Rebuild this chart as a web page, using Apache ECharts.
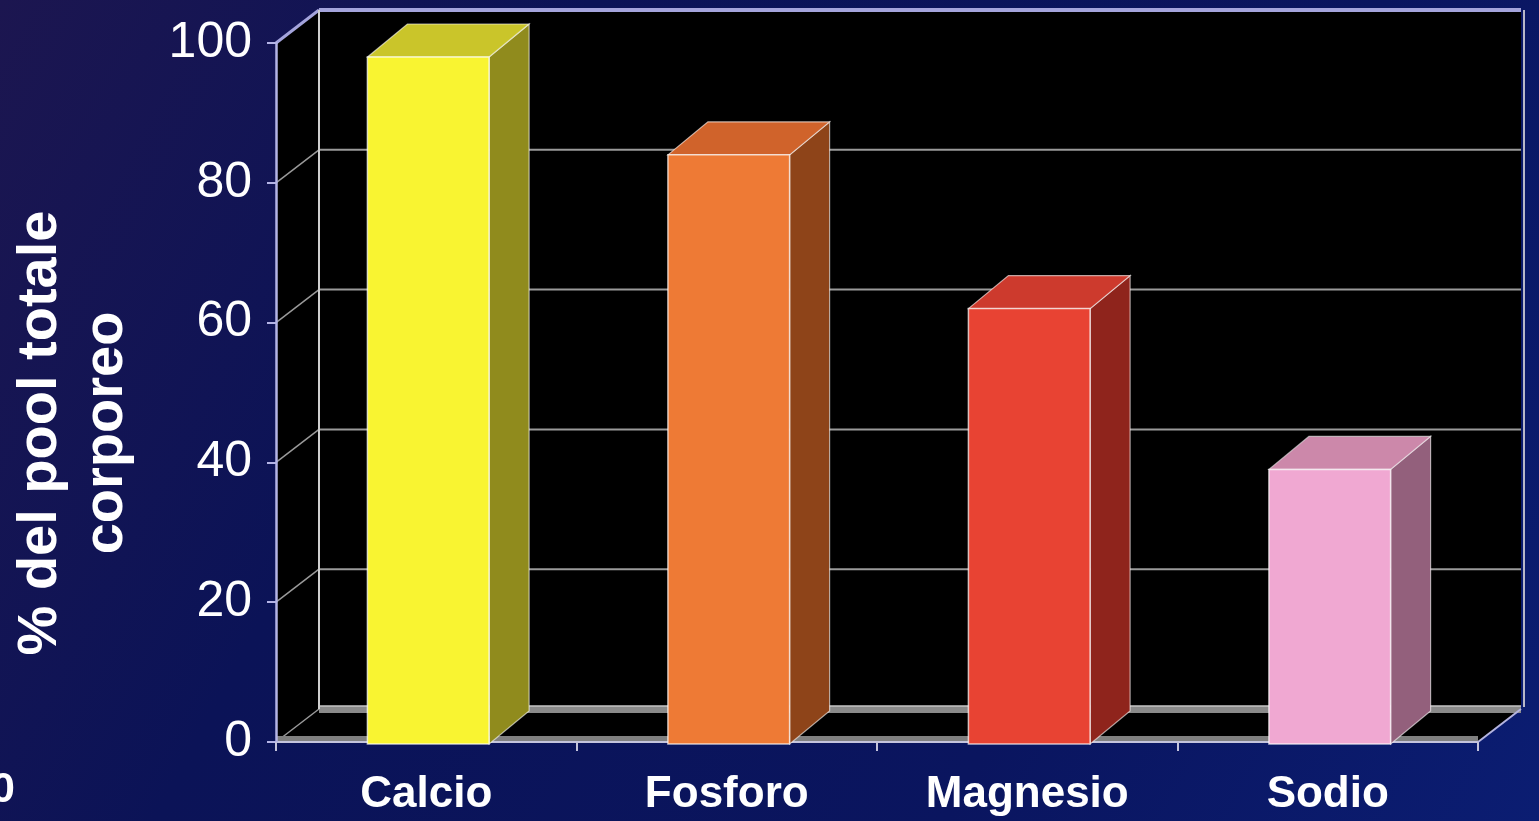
<!DOCTYPE html>
<html><head><meta charset="utf-8">
<script src="https://cdn.jsdelivr.net/npm/echarts@6/dist/echarts.min.js"></script>
<style>html,body{margin:0;padding:0;width:1539px;height:821px;overflow:hidden;background:#0b1458}#c{width:1539px;height:821px}</style>
</head><body><div id="c"></div>
<script>
// ---- data ----
const categories = ['Calcio', 'Fosforo', 'Magnesio', 'Sodio'];
const values = [98, 84, 62, 39];
const yTicks = [0, 20, 40, 60, 80, 100];
const yAxisTitle = '% del pool totale\ncorporeo';
const cornerText = '0';

// ---- styles ----
const frontColors = ['#f9f431', '#ee7a35', '#e84333', '#f0a8d2'];
const topColors = ['#cac52a', '#d0632b', '#cd3a2d', '#cc88aa'];
const sideColors = ['#908b1d', '#8e4419', '#8f241c', '#93607c'];
const DX = 43, DY = -33;
const FONT = '"Liberation Sans", Arial, sans-serif';

const chart = echarts.init(document.getElementById('c'));

function frameRender(params, api) {
  const cs = params.coordSys;
  const x0 = cs.x, x1 = cs.x + cs.width, yT = cs.y, yB = cs.y + cs.height;
  const ch = [];
  ch.push({type: 'rect', shape: {x: x0 + DX, y: yT + DY, width: cs.width, height: cs.height}, style: {fill: '#000'}});
  ch.push({type: 'polygon', shape: {points: [[x0, yT], [x0 + DX, yT + DY], [x0 + DX, yB + DY], [x0, yB]]}, style: {fill: '#000'}});
  ch.push({type: 'polygon', shape: {points: [[x0, yB], [x1, yB], [x1 + DX, yB + DY], [x0 + DX, yB + DY]]}, style: {fill: '#000'}});
  yTicks.forEach(function (v) {
    const y = api.coord([0, v])[1];
    if (v === 0) {
      ch.push({type: 'rect', shape: {x: x0 + DX, y: y + DY - 3, width: cs.width, height: 7}, style: {fill: '#8a8a8a'}});
      ch.push({type: 'line', shape: {x1: x0 + DX, y1: y + DY - 3, x2: x1 + DX, y2: y + DY - 3}, style: {stroke: '#c4c4c4', lineWidth: 1.5}});
    } else if (v === 100) {
      ch.push({type: 'line', shape: {x1: x0 + DX, y1: y + DY, x2: x1 + DX, y2: y + DY}, style: {stroke: '#a4a4dc', lineWidth: 4}});
    } else {
      ch.push({type: 'line', shape: {x1: x0 + DX, y1: y + DY, x2: x1 + DX, y2: y + DY}, style: {stroke: '#9a9a9a', lineWidth: 2}});
    }
    ch.push({type: 'line', shape: {x1: x0, y1: y, x2: x0 + DX, y2: y + DY},
      style: {stroke: v === 100 ? '#a4a4dc' : '#9a9a9a', lineWidth: v === 100 ? 3 : 1.5}});
  });
  ch.push({type: 'line', shape: {x1: x0 + DX, y1: yT + DY, x2: x0 + DX, y2: yB + DY}, style: {stroke: '#cfcfcf', lineWidth: 2}});
  ch.push({type: 'line', shape: {x1: x1 + DX + 3, y1: yT + DY, x2: x1 + DX + 3, y2: yB + DY - 2}, style: {stroke: '#b8b8c8', lineWidth: 2}});
  ch.push({type: 'rect', shape: {x: x0, y: yB - 6, width: cs.width, height: 6}, style: {fill: '#808080'}});
  ch.push({type: 'line', shape: {x1: x0, y1: yB, x2: x1, y2: yB}, style: {stroke: '#c4c4dc', lineWidth: 2}});
  ch.push({type: 'line', shape: {x1: x1, y1: yB, x2: x1 + DX, y2: yB + DY}, style: {stroke: '#b4b4e0', lineWidth: 2}});
  return {type: 'group', children: ch};
}

function barRender(params, api) {
  const i = api.value(0), v = api.value(1);
  const top = api.coord([i, v]);
  const base = api.coord([i, 0]);
  const w = api.size([1, 0])[0] * 0.405;
  const xl = top[0] - w / 2 + 2, xr = xl + w;
  const yt = top[1], yb = base[1] + 2;
  const edge = 'rgba(255,255,255,0.6)';
  return {
    type: 'group',
    children: [
      {type: 'polygon', shape: {points: [[xr, yt], [xr + DX - 3, yt + DY], [xr + DX - 3, yb + DY], [xr, yb]]},
        style: {fill: sideColors[i], stroke: edge, lineWidth: 1.2}},
      {type: 'polygon', shape: {points: [[xl, yt], [xl + DX - 3, yt + DY], [xr + DX - 3, yt + DY], [xr, yt]]},
        style: {fill: topColors[i], stroke: edge, lineWidth: 1.2}},
      {type: 'rect', shape: {x: xl, y: yt, width: w, height: yb - yt},
        style: {fill: frontColors[i], stroke: 'rgba(255,255,255,0.7)', lineWidth: 1.5}}
    ]
  };
}

chart.setOption({
  animation: false,
  backgroundColor: {
    type: 'linear', x: 0, y: 0, x2: 1, y2: 1,
    colorStops: [
      {offset: 0, color: '#1c1650'},
      {offset: 0.3, color: '#0b1357'},
      {offset: 0.7, color: '#0a155f'},
      {offset: 1, color: '#0b1d72'}
    ]
  },
  grid: {left: 276, right: 61, top: 43, bottom: 79, containLabel: false},
  xAxis: {
    type: 'category', data: categories, z: 6,
    axisLine: {show: false},
    axisTick: {show: true, length: 9, interval: 0, lineStyle: {color: '#c4c4dc', width: 2}},
    axisLabel: {color: '#fff', fontSize: 44, fontWeight: 'bold', fontFamily: FONT, margin: 31, interval: 0}
  },
  yAxis: {
    type: 'value', min: 0, max: 100, interval: 20, z: 6,
    axisLine: {show: true, lineStyle: {color: '#b4b4e6', width: 2.5}},
    axisTick: {show: true, length: 9, lineStyle: {color: '#b4b4e6', width: 2}},
    axisLabel: {color: '#fff', fontSize: 50, fontFamily: FONT, margin: 24},
    splitLine: {show: false}
  },
  graphic: [
    {type: 'text', x: 74, y: 433, rotation: Math.PI / 2, z: 10,
      style: {text: yAxisTitle, fill: '#fff', font: 'bold 56px ' + FONT, align: 'center', verticalAlign: 'middle',
        textAlign: 'center', textVerticalAlign: 'middle', lineHeight: 66}},
    {type: 'text', x: -9, y: 790, z: 10,
      style: {text: cornerText, fill: '#fff', font: 'bold 43px ' + FONT, align: 'left', verticalAlign: 'middle',
        textAlign: 'left', textVerticalAlign: 'middle'}}
  ],
  series: [
    {type: 'custom', name: 'frame', z: 1, silent: true, renderItem: frameRender, data: [[0, 0]], clip: false},
    {type: 'custom', name: 'bars', z: 3, renderItem: barRender,
      data: values.map(function (v, i) { return [i, v]; }), clip: false}
  ]
});
</script></body></html>
